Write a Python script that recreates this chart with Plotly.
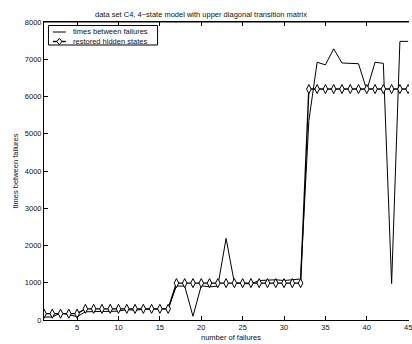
import plotly.graph_objects as go

failures = list(range(1, 46))
times_between_failures = [80, 80, 190, 140, 90,
                          220, 230, 230, 230, 240, 280, 260, 290, 300, 300, 300,
                          910, 910, 100, 920, 890, 910, 2190, 1000, 980, 970, 1060, 1080, 1080, 1060, 1070, 1100,
                          5350, 6920, 6850, 7280, 6900, 6880, 6880, 6170, 6920, 6890, 980, 7480, 7480]
restored_hidden_states = [170, 170, 170, 170, 170,
                          300, 300, 300, 300, 300, 300, 300, 300, 300, 300, 300,
                          990, 990, 990, 990, 990, 990, 990, 990, 990, 990, 990, 990, 990, 990, 990, 990,
                          6200, 6200, 6200, 6200, 6200, 6200, 6200, 6200, 6200, 6200, 6200, 6200, 6200]
x_ticks = [5, 10, 15, 20, 25, 30, 35, 40, 45]
y_ticks = [0, 1000, 2000, 3000, 4000, 5000, 6000, 7000, 8000]
legend_labels = ["times between failures", "restored hidden states"]

FONT = "Liberation Sans, Arial, Helvetica, sans-serif"
TXT = "#111"
W, H = 412, 344
ML, MR, MT, MB = 44, 0, 22, 24
pw = W - ML - MR
ph = H - MT - MB


def px(xp):
    return (xp - ML) / pw


def py(yp):
    return (H - MB - yp) / ph


fig = go.Figure()
fig.add_trace(go.Scatter(x=failures, y=times_between_failures, mode="lines",
                         name=legend_labels[0], showlegend=False,
                         line=dict(color="black", width=1)))
fig.add_trace(go.Scatter(x=failures, y=restored_hidden_states, mode="lines+markers",
                         name=legend_labels[1], showlegend=False,
                         line=dict(color="black", width=1.4),
                         marker=dict(symbol="diamond-tall", size=6.5, color="white",
                                     line=dict(color="black", width=1))))

shapes = [
    # top border (right border is cropped away in the reference)
    dict(type="line", xref="paper", yref="paper", x0=0, x1=1, y0=1, y1=1,
         line=dict(color="black", width=1)),
    # legend box
    dict(type="rect", xref="paper", yref="paper", x0=px(48.5), x1=px(158.5),
         y0=py(45), y1=py(25.5), line=dict(color="black", width=1), fillcolor="white",
         layer="above"),
    # legend samples
    dict(type="line", xref="paper", yref="paper", x0=px(53), x1=px(66), y0=py(32), y1=py(32),
         line=dict(color="black", width=1), layer="above"),
    dict(type="line", xref="paper", yref="paper", x0=px(53), x1=px(66), y0=py(41.5), y1=py(41.5),
         line=dict(color="black", width=1.4), layer="above"),
    dict(type="path", xref="paper", yref="paper",
         path=f"M {px(59.5)} {py(38.3)} L {px(62)} {py(41.5)} L {px(59.5)} {py(44.7)} L {px(57)} {py(41.5)} Z",
         line=dict(color="black", width=1), fillcolor="white", layer="above"),
]

annotations = [
    dict(text="number of failures", xref="paper", yref="paper",
         x=px(233), y=py(337), xanchor="center", yanchor="middle",
         showarrow=False, font=dict(size=7.5, family=FONT, color=TXT)),
    dict(text="times between failures", xref="paper", yref="paper",
         x=px(15), y=0.5, xanchor="center", yanchor="middle", textangle=-90,
         showarrow=False, font=dict(size=7.5, family=FONT, color=TXT)),
    dict(text=legend_labels[0], xref="paper", yref="paper",
         x=px(71), y=py(32), xanchor="left", yanchor="middle",
         showarrow=False, font=dict(size=7.5, family=FONT, color=TXT)),
    dict(text=legend_labels[1], xref="paper", yref="paper",
         x=px(71), y=py(41.5), xanchor="left", yanchor="middle",
         showarrow=False, font=dict(size=7.5, family=FONT, color=TXT)),
]

fig.update_layout(
    width=W, height=H,
    margin=dict(l=ML, r=MR, t=MT, b=MB),
    paper_bgcolor="white", plot_bgcolor="white",
    font=dict(family=FONT, size=7.5, color=TXT),
    title=dict(text="data set C4, 4\u2212state model with upper diagonal transition matrix",
               x=201 / W, xref="container", xanchor="center",
               y=1 - 14 / H, yref="container", yanchor="middle",
               font=dict(size=7.5, family=FONT, color=TXT)),
    showlegend=False,
    xaxis=dict(range=[1, 45.1], tickvals=x_ticks, ticks="inside", ticklen=4,
               tickcolor="black", showline=True, linecolor="black", linewidth=1,
               mirror="ticks", showgrid=False, zeroline=False, ticklabeloverflow="allow"),
    yaxis=dict(range=[0, 8000], tickvals=y_ticks, ticks="inside", ticklen=4,
               tickcolor="black", showline=True, linecolor="black", linewidth=1,
               mirror=False, showgrid=False, zeroline=False),
    shapes=shapes,
    annotations=annotations,
)

fig.write_html("out.html")
